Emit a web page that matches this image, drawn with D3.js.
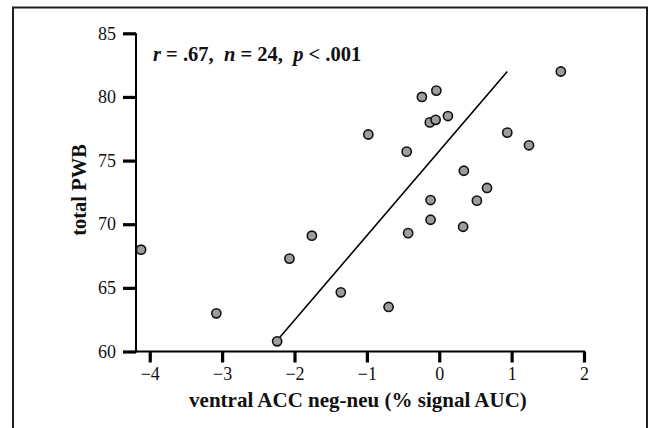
<!DOCTYPE html>
<html>
<head>
<meta charset="utf-8">
<script src="https://cdn.jsdelivr.net/npm/d3@7"></script>
<style>
  body { margin: 0; background: #fff; }
  svg text { font-family: "Liberation Serif", "Times New Roman", serif; fill: #111; }
</style>
</head>
<body>
<svg id="chart" width="649" height="428"></svg>
<script>

// values
let acc_values = [1.68, -0.24, -0.04, -0.13, -0.05, 0.12, -0.45, 0.94, 1.24, 0.34, 0.66, 0.52,
                  -0.12, -0.12, 0.33, -0.43, -4.12, -3.08, -2.24, -2.07, -1.76, -1.36, -0.70, -0.98]
let pwb_values = [82.0, 80.0, 80.5, 78.0, 78.2, 78.5, 75.7, 77.2, 76.2, 74.2, 72.85, 71.85,
                  71.9, 70.35, 69.8, 69.3, 68.0, 63.0, 60.8, 67.3, 69.1, 64.65, 63.5, 77.05]

let fit_x = [-2.22, 0.94]
let fit_y = [61.0, 82.0]

let x_ticks = [-4, -3, -2, -1, 0, 1, 2]
let y_ticks = [60, 65, 70, 75, 80, 85]

let x_title = 'ventral ACC neg-neu (% signal AUC)'
let y_title = 'total PWB'

let serif = '"Liberation Serif", "Times New Roman", serif'

let svg = d3.select('#chart')

// frame round the figure
svg.append('path')
.attr('d', 'M13,428 L13,7.5 L647,7.5 L647,428')
.attr('fill', 'none')
.attr('stroke', '#231f20')
.attr('stroke-width', 2)

let x = d3.scaleLinear().domain([-4.19, 2]).range([136, 584])
let y = d3.scaleLinear().domain([60, 85]).range([351.5, 33.3])

let xAxis = svg.append('g')
.attr('transform', 'translate(0,' + y(60) + ')')
.call(d3.axisBottom(x).tickValues(x_ticks).tickSize(11).tickPadding(5)
  .tickFormat(d => d < 0 ? '\u2212' + Math.abs(d) : d))

let yAxis = svg.append('g')
.attr('transform', 'translate(' + x(-4.19) + ',0)')
.call(d3.axisLeft(y).tickValues(y_ticks).tickSize(13).tickPadding(7))

svg.selectAll('g').attr('font-family', serif)
d3.selectAll('.domain').attr('stroke', '#000').attr('stroke-width', 2)
d3.selectAll('.tick line').attr('stroke', '#000').attr('stroke-width', 3.2)
d3.selectAll('.tick text')
.style('font-family', serif)
.style('font-size', '18px')
.attr('fill', '#111')

// kill the outer tick ends of the domain path
xAxis.select('.domain').attr('d', 'M' + x(-4.19) + ',0H' + (x(2) + 1))
yAxis.select('.domain').attr('d', 'M0,' + (y(60) + 1) + 'V' + y(85))

// regression line
svg.append('line')
.attr('x1', x(fit_x[0])).attr('y1', y(fit_y[0]))
.attr('x2', x(fit_x[1])).attr('y2', y(fit_y[1]))
.attr('stroke', '#000')
.attr('stroke-width', 1.6)

svg.append('g').selectAll('circle')
.data(acc_values)
.join('circle')
.attr('cx', d => x(d))
.attr('cy', (d, i) => y(pwb_values[i]))
.attr('r', 4.6)
.attr('fill', '#9d9d9d')
.attr('stroke', '#111')
.attr('stroke-width', 1.6)

// stats
let stats = svg.append('text')
.attr('x', 153).attr('y', 61)
.style('font-family', serif)
.style('font-size', '20.5px').style('font-weight', 'bold')
.attr('xml:space', 'preserve').style('white-space', 'pre')

let parts = [['r', true], [' = .67,  ', false], ['n', true], [' = 24,  ', false], ['p', true], [' < .001', false]]
parts.forEach(p => {
  stats.append('tspan').text(p[0]).style('font-style', p[1] ? 'italic' : 'normal')
})

svg.append('text')
.attr('x', 358).attr('y', 407)
.attr('text-anchor', 'middle')
.style('font-family', serif)
.style('font-size', '21px').style('font-weight', 'bold')
.text(x_title)

svg.append('text')
.attr('transform', 'translate(86,190) rotate(-90)')
.attr('text-anchor', 'middle')
.style('font-family', serif)
.style('font-size', '20.5px').style('font-weight', 'bold')
.text(y_title)

</script>
</body>
</html>
